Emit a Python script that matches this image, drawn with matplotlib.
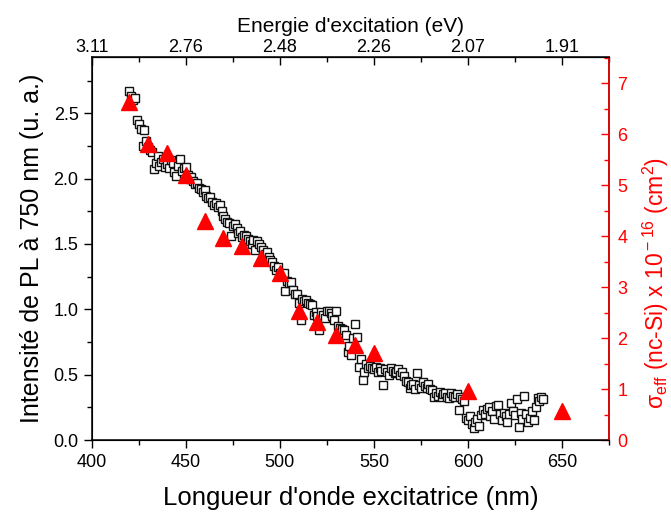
import matplotlib
matplotlib.use("Agg")
import matplotlib.pyplot as plt
import numpy as np
from matplotlib.ticker import MultipleLocator, FixedLocator, FixedFormatter, FormatStrFormatter

plt.rcParams['font.family'] = ['Liberation Sans', 'DejaVu Sans']
plt.rcParams['mathtext.fontset'] = 'custom'
plt.rcParams['mathtext.rm'] = 'Liberation Sans'
plt.rcParams['mathtext.it'] = 'Liberation Sans'

# PL intensity at 750 nm (squares), left axis
pl_wavelength = np.arange(420, 641)
pl_intensity = [
    2.67, 2.63, 2.60, 2.62, 2.45, 2.42, 2.38, 2.25, 2.37, 2.29,
    2.24, 2.22, 2.20, 2.07, 2.12, 2.17, 2.10, 2.13, 2.15, 2.09,
    2.11, 2.08, 2.14, 2.12, 2.05, 2.02, 2.10, 2.15, 2.06, 2.08,
    2.09, 2.03, 2.00, 2.01, 1.98, 1.96, 1.97, 1.93, 1.92, 1.90,
    1.91, 1.87, 1.85, 1.86, 1.82, 1.80, 1.81, 1.78, 1.80, 1.75,
    1.71, 1.69, 1.67, 1.66, 1.56, 1.64, 1.65, 1.62, 1.58, 1.60,
    1.55, 1.57, 1.56, 1.54, 1.52, 1.50, 1.53, 1.45, 1.52, 1.50,
    1.48, 1.45, 1.42, 1.44, 1.40, 1.38, 1.36, 1.33, 1.30, 1.32,
    1.28, 1.26, 1.28, 1.14, 1.22, 1.20, 1.21, 1.15, 1.12, 1.12,
    1.05, 0.92, 1.08, 1.06, 1.07, 1.05, 1.04, 1.03, 0.96, 0.98,
    0.95, 0.84, 0.98, 0.96, 0.93, 0.99, 0.99, 0.97, 0.95, 0.92,
    0.99, 0.87, 0.86, 0.85, 0.84, 0.80, 0.67, 0.72, 0.65, 0.78,
    0.89, 0.79, 0.56, 0.62, 0.46, 0.52, 0.58, 0.55, 0.57, 0.55,
    0.54, 0.56, 0.52, 0.55, 0.53, 0.42, 0.54, 0.52, 0.50, 0.55,
    0.53, 0.51, 0.52, 0.54, 0.50, 0.52, 0.49, 0.45, 0.44, 0.40,
    0.42, 0.43, 0.39, 0.51, 0.42, 0.40, 0.44, 0.41, 0.40, 0.43,
    0.39, 0.38, 0.33, 0.36, 0.34, 0.37, 0.33, 0.35, 0.36, 0.33,
    0.32, 0.36, 0.34, 0.33, 0.35, 0.23, 0.33, 0.31, 0.30, 0.17,
    0.15, 0.18, 0.12, 0.09, 0.14, 0.16, 0.11, 0.19, 0.23, 0.20,
    0.24, 0.25, 0.18, 0.22, 0.16, 0.26, 0.27, 0.20, 0.15, 0.21,
    0.18, 0.14, 0.20, 0.28, 0.22, 0.19, 0.31, 0.10, 0.21, 0.16,
    0.34, 0.20, 0.14, 0.17, 0.22, 0.15, 0.25, 0.32, 0.30, 0.33,
    0.31,
]

# effective cross section (triangles), right axis
sigma_wavelength = [420, 430, 440, 450, 460, 470, 480, 490, 500,
                    510, 520, 530, 540, 550, 600, 650]
sigma_eff = [6.63, 5.80, 5.63, 5.20, 4.30, 3.97, 3.81, 3.57, 3.28,
             2.52, 2.31, 2.06, 1.86, 1.70, 0.96, 0.57]

# top axis: energy labels at the bottom-axis major ticks
energy_pos = [400, 450, 500, 550, 600, 650]
energy_labels = ["3.11", "2.76", "2.48", "2.26", "2.07", "1.91"]

red = "#ff0000"

fig = plt.figure(figsize=(6.71, 5.15), dpi=100)
ax = fig.add_axes([0.1367, 0.1456, 0.7709, 0.7437])

ax.plot(pl_wavelength, pl_intensity, ls="none", marker="s", ms=5.2,
        mfc="white", mec="#111111", mew=1.0)
ax.set_xlim(400, 675)
ax.set_ylim(0, 2.93)
ax.xaxis.set_major_locator(MultipleLocator(50))
ax.xaxis.set_minor_locator(MultipleLocator(25))
ax.yaxis.set_major_locator(MultipleLocator(0.5))
ax.yaxis.set_minor_locator(MultipleLocator(0.25))
ax.yaxis.set_major_formatter(FormatStrFormatter("%.1f"))
ax.tick_params(axis="both", which="major", direction="out", length=6,
               width=1, labelsize=13)
ax.tick_params(axis="both", which="minor", direction="out", length=3.5,
               width=1)
ax.tick_params(axis="x", pad=4)
ax.set_xlabel("Longueur d'onde excitatrice (nm)", fontsize=18.5, labelpad=11)
ax.set_ylabel("Intensité de PL à 750 nm (u. a.)", fontsize=18, labelpad=7)
for s in ax.spines.values():
    s.set_linewidth(1.1)

ax2 = ax.twinx()
ax2.plot(sigma_wavelength, sigma_eff, ls="none", marker="^", ms=11,
         color=red, mec=red)
ax2.set_ylim(0, 7.51)
ax2.yaxis.set_major_locator(MultipleLocator(1))
ax2.yaxis.set_minor_locator(MultipleLocator(0.5))
ax2.tick_params(axis="y", which="major", direction="in", length=5.5,
                width=1, labelsize=13, colors=red, pad=6)
ax2.tick_params(axis="y", which="minor", direction="in", length=3.5,
                width=1, colors=red)
ax2.spines["right"].set_color(red)
ax2.spines["right"].set_linewidth(1.1)
ax2.set_ylabel(r"σ$_{\rm eff}$ (nc-Si) x 10$^{\rm -16}$ (cm$^{\rm 2}$)",
               fontsize=16.5, color=red)
ax2.yaxis.set_label_coords(1.062, 0.41)

top = ax.secondary_xaxis("top")
top.xaxis.set_major_locator(FixedLocator(energy_pos))
top.xaxis.set_major_formatter(FixedFormatter(energy_labels))
top.xaxis.set_minor_locator(MultipleLocator(25))
top.tick_params(axis="x", which="major", direction="in", length=6,
                width=1, labelsize=13, pad=1)
top.tick_params(axis="x", which="minor", direction="in", length=3.5, width=1)
top.set_xlabel("Energie d'excitation (eV)", fontsize=15, labelpad=5)

fig.savefig("out.png", dpi=100)
